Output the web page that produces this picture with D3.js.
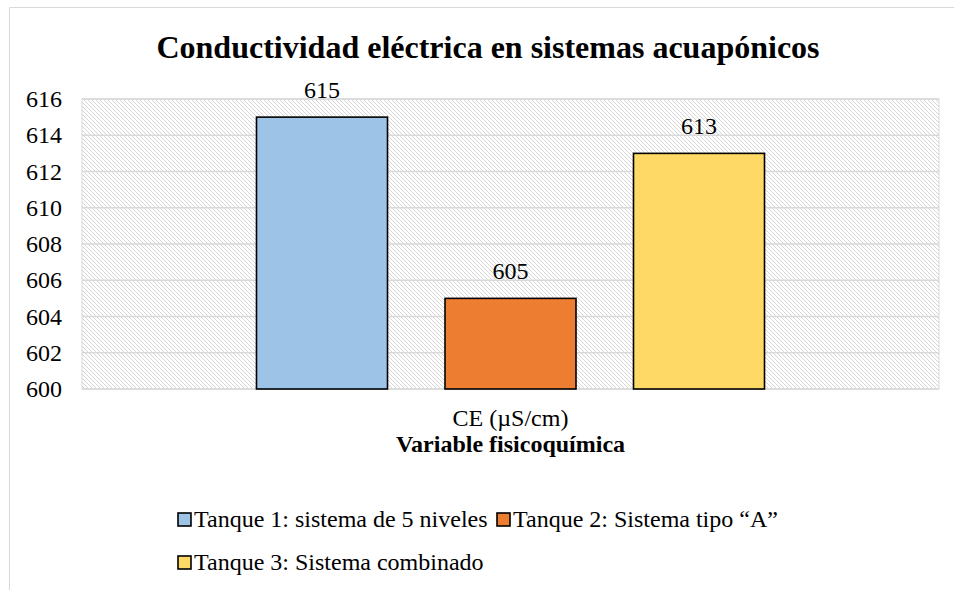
<!DOCTYPE html>
<html>
<head>
<meta charset="utf-8">
<script src="https://cdn.jsdelivr.net/npm/d3@7"></script>
<style>
  body { margin: 0; background: #fff; }
</style>
</head>
<body>
<div id="container"></div>
<script>
// data
const categories = ["CE (µS/cm)"];
const seriesNames = ["Tanque 1: sistema de 5 niveles", "Tanque 2: Sistema tipo \u201CA\u201D", "Tanque 3: Sistema combinado"];
const seriesValues = [615, 605, 613];
const seriesColors = ["#9DC3E6", "#ED7D31", "#FFD966"];
const yTicks = [600, 602, 604, 606, 608, 610, 612, 614, 616];

const width = 954;
const height = 590;
const margin = { top: 99, right: 15, bottom: 201, left: 82 };
const FONT = "Liberation Serif";

const svg = d3.create("svg")
    .attr("width", width)
    .attr("height", height)
    .attr("font-family", FONT);

// hatch pattern for plot background
const defs = svg.append("defs");
const pat = defs.append("pattern")
  .attr("id", "hatch")
  .attr("patternUnits", "userSpaceOnUse")
  .attr("width", 4)
  .attr("height", 4);
pat.append("rect").attr("width", 4).attr("height", 4).attr("fill", "#fff");
pat.append("path")
  .attr("d", "M-1,-1 L5,5 M-3,1 L1,5 M3,-1 L5,1")
  .attr("stroke", "#d6d6d6")
  .attr("stroke-width", 1);

// outer chart border
svg.append("path")
  .attr("d", "M9.5,590 L9.5,7.5 L954,7.5")
  .attr("fill", "none")
  .attr("stroke", "#d9d9d9")
  .attr("stroke-width", 1);

const x0 = margin.left, x1 = width - margin.right;
const y0 = margin.top, y1 = height - margin.bottom;

const y = d3.scaleLinear().domain([600, 616]).range([y1, y0]);
const xCat = d3.scaleBand().domain(categories).range([x0, x1]).paddingInner(0).paddingOuter(0.3435);
const xSer = d3.scaleBand().domain(seriesNames).range([0, xCat.bandwidth()]).paddingInner(0.305).paddingOuter(0);

// plot background
svg.append("rect")
  .attr("x", x0).attr("y", y0)
  .attr("width", x1 - x0).attr("height", y1 - y0)
  .attr("fill", "url(#hatch)")
  .attr("stroke", "#d9d9d9");

// gridlines
svg.append("g")
  .selectAll("line")
  .data(yTicks)
  .join("line")
  .attr("x1", x0).attr("x2", x1)
  .attr("y1", d => y(d)).attr("y2", d => y(d))
  .attr("stroke", "#d9d9d9")
  .attr("stroke-width", 1.3);

// y axis labels
const yAxis = d3.axisLeft(y).tickValues(yTicks).tickSize(0).tickPadding(20);
svg.append("g")
  .attr("transform", `translate(${x0},0)`)
  .call(yAxis)
  .call(g => g.select(".domain").remove())
  .call(g => g.attr("font-family", FONT).attr("font-size", 24))
  .call(g => g.selectAll("text").attr("fill", "#000").attr("dy", "0.32em"));

// bars
const data = seriesNames.map((s, i) => ({ cat: categories[0], name: s, value: seriesValues[i], color: seriesColors[i] }));

svg.append("g")
  .selectAll("rect")
  .data(data)
  .join("rect")
  .attr("x", d => xCat(d.cat) + xSer(d.name))
  .attr("y", d => y(d.value))
  .attr("width", xSer.bandwidth())
  .attr("height", d => y(600) - y(d.value))
  .attr("fill", d => d.color)
  .attr("stroke", "#000")
  .attr("stroke-width", 1.6);

// value labels
svg.append("g")
  .selectAll("text")
  .data(data)
  .join("text")
  .attr("x", d => xCat(d.cat) + xSer(d.name) + xSer.bandwidth() / 2)
  .attr("y", d => y(d.value) - 19)
  .attr("text-anchor", "middle")
  .attr("font-family", FONT)
  .attr("font-size", 24)
  .text(d => d.value);

// x axis category label
const xAxis = d3.axisBottom(xCat).tickSize(0).tickPadding(37);
svg.append("g")
  .attr("transform", `translate(0,${y1})`)
  .call(xAxis)
  .call(g => g.select(".domain").remove())
  .call(g => g.attr("font-family", FONT).attr("font-size", 24))
  .call(g => g.selectAll("text").attr("fill", "#000").attr("dy", 0));

// title
svg.append("text")
  .attr("x", 488)
  .attr("y", 58)
  .attr("text-anchor", "middle")
  .attr("font-family", FONT)
  .attr("font-size", 32)
  .attr("font-weight", "bold")
  .text("Conductividad eléctrica en sistemas acuapónicos");

// x axis title
svg.append("text")
  .attr("x", (x0 + x1) / 2)
  .attr("y", 452)
  .attr("text-anchor", "middle")
  .attr("font-family", FONT)
  .attr("font-size", 24)
  .attr("font-weight", "bold")
  .text("Variable fisicoquímica");

// legend
const legendPos = [[177, 520], [496, 520], [177, 563]];
const leg = svg.append("g")
  .selectAll("g")
  .data(data)
  .join("g")
  .attr("transform", (d, i) => `translate(${legendPos[i][0]},${legendPos[i][1]})`);
leg.append("rect")
  .attr("x", 1).attr("y", -7)
  .attr("width", 13).attr("height", 13)
  .attr("fill", d => d.color)
  .attr("stroke", "#000")
  .attr("stroke-width", 1.6);
leg.append("text")
  .attr("x", 17)
  .attr("y", 7)
  .attr("font-family", FONT)
  .attr("font-size", 24)
  .text(d => d.name);

container.append(svg.node());
</script>
</body>
</html>
